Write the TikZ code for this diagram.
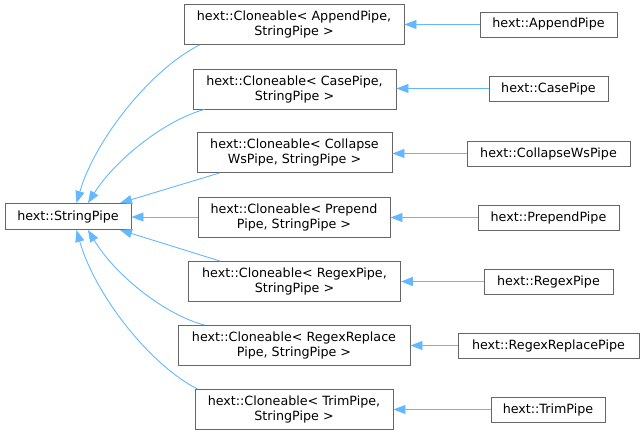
\documentclass[tikz,border=0pt]{standalone}
\usepackage{fontspec}
\setmainfont{DejaVu Sans}
\usetikzlibrary{arrows.meta}
\definecolor{edgeblue}{HTML}{63B8FF}
\definecolor{boxgray}{HTML}{666666}
\tikzset{
  cls/.style={draw=boxgray, fill=white, line width=0.9pt, inner sep=0pt, align=center,
    font=\fontsize{12.7}{15}\selectfont},
  mid/.style={cls, minimum height=40pt},
  leaf/.style={cls, minimum height=25pt},
  edge/.style={draw=edgeblue, line width=0.9pt, -{Triangle[length=12pt,width=9pt]}},
}
\begin{document}
\begin{tikzpicture}[x=1pt,y=-1pt]
\useasboundingbox (0,0) rectangle (644,435);
% base
\node[cls, minimum width=126pt, minimum height=26pt] (sp) at (68,216.5) {hext::StringPipe};
% middle column
\node[mid, minimum width=220pt] (c1) at (294,24.5) {hext::Cloneable< AppendPipe,\\StringPipe >};
\node[mid, minimum width=203pt] (c2) at (294.5,89) {hext::Cloneable< CasePipe,\\StringPipe >};
\node[mid, minimum width=195pt] (c3) at (294.5,152.5) {hext::Cloneable< Collapse\\WsPipe, StringPipe >};
\node[mid, minimum width=192pt] (c4) at (294,217) {hext::Cloneable< Prepend\\Pipe, StringPipe >};
\node[mid, minimum width=212pt] (c5) at (294.5,281.5) {hext::Cloneable< RegexPipe,\\StringPipe >};
\node[mid, minimum width=232pt] (c6) at (294,345.5) {hext::Cloneable< RegexReplace\\Pipe, StringPipe >};
\node[mid, minimum width=198pt] (c7) at (294,409.5) {hext::Cloneable< TrimPipe,\\StringPipe >};
% right column
\node[leaf, minimum width=137pt] (r1) at (548.5,24.5) {hext::AppendPipe};
\node[leaf, minimum width=119pt] (r2) at (548.5,88.5) {hext::CasePipe};
\node[leaf, minimum width=163pt] (r3) at (548.5,153.5) {hext::CollapseWsPipe};
\node[leaf, minimum width=141pt] (r4) at (548.5,217.5) {hext::PrependPipe};
\node[leaf, minimum width=129pt] (r5) at (548.5,281.5) {hext::RegexPipe};
\node[leaf, minimum width=181pt] (r6) at (548.5,345.5) {hext::RegexReplacePipe};
\node[leaf, minimum width=114pt] (r7) at (548,409.5) {hext::TrimPipe};
% right-to-middle edges
\foreach \i in {1,...,7}{
  \draw[edge] (r\i.west) -- (c\i.east |- r\i.west);
}
% middle-to-base edges
\draw[edge] ([xshift=16pt]c1.south west) .. controls (150,70) and (95,140) .. ([xshift=8.5pt]sp.north);
\draw[edge] ([xshift=12pt]c2.south west) .. controls (165,120) and (115,160) .. ([xshift=20pt]sp.north);
\draw[edge] ([xshift=23pt]c3.south west) -- ([xshift=52pt]sp.north);
\draw[edge] (c4.west) -- (sp.east |- c4.west);
\draw[edge] ([xshift=32pt]c5.north west) -- ([xshift=52pt]sp.south);
\draw[edge] ([xshift=27pt]c6.north west) .. controls (165,315) and (115,275) .. ([xshift=20pt]sp.south);
\draw[edge] ([xshift=3pt]c7.north west) .. controls (150,365) and (95,295) .. ([xshift=8.5pt]sp.south);
\end{tikzpicture}
\end{document}
